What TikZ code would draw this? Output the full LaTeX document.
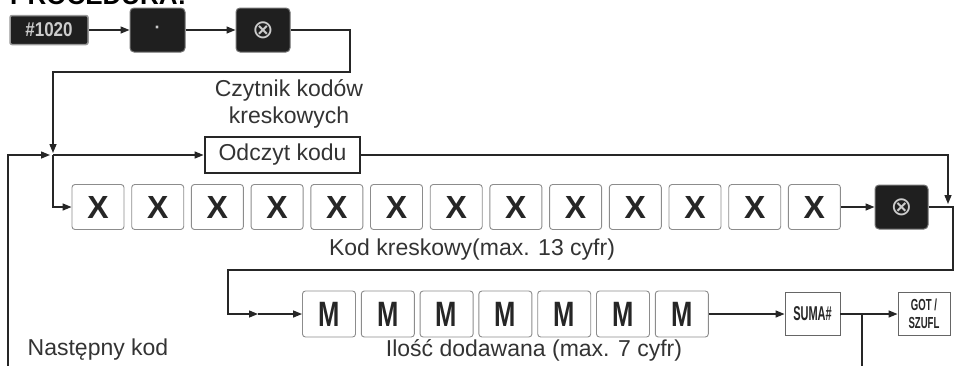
\documentclass[tikz,border=0pt]{standalone}
\usepackage{fontspec}
\setmainfont{Liberation Sans}
\newfontfamily\dejavu{DejaVu Sans}
\usetikzlibrary{arrows.meta}
\begin{document}
\begin{tikzpicture}[x=1pt,y=-1pt,
 conn/.style={line width=1.4pt, draw=black!85},
 arr/.style={conn,-{Triangle[length=9pt,width=7pt]}},
 xkey/.style={draw=black!45, line width=0.9pt, rounded corners=3pt, minimum width=52pt, minimum height=45pt, inner sep=0pt, font=\fontsize{32}{32}\selectfont\bfseries, text=black!85},
 mkey/.style={xkey, minimum width=53pt, minimum height=46pt},
 dkey/.style={fill=black!88, draw=black!55, line width=1pt, rounded corners=4pt, minimum width=54pt, minimum height=44pt, inner sep=0pt, text=black!20},
 smallkey/.style={draw=black!60, line width=0.9pt, minimum height=43pt, inner sep=0pt, align=center, text=black!85},
 lbl/.style={font=\fontsize{23}{27}\selectfont, text=black!80, inner sep=0pt, align=center},
 ]
\useasboundingbox (0,0) rectangle (956,365);
\clip (0,0) rectangle (956,365);
\node[anchor=base west, font=\fontsize{26}{26}\selectfont\bfseries, inner sep=0pt] (title) at (10,4) {PROCEDURA:};
% top row keys
\node[dkey, minimum width=78pt, minimum height=29pt, rounded corners=2pt, draw=black!40, line width=1.5pt] (k1) at (49,30) {\fontsize{20}{20}\selectfont\bfseries\scalebox{0.85}[1]{\#1020}};
\node[dkey, minimum width=55pt] (k2) at (157.5,30) {\fontsize{18}{18}\selectfont\textbf{·}};
\node[dkey] (k3) at (263,30) {\dejavu\fontsize{26}{26}\selectfont ⊗};
\draw[arr] (k1.east) -- (k2.west);
\draw[arr] (k2.east) -- (k3.west);
% reader
\node[lbl] (cz) at (289,104) {Czytnik kodów\\kreskowych};
\node[draw=black!85, line width=2.8pt, minimum width=155pt, minimum height=36pt, inner sep=0pt, font=\fontsize{23}{23}\selectfont, text=black!80] (odc) at (282.5,155) {Odczyt kodu};
% X row
\foreach \i in {1,...,13} {
  \node[xkey] (x\i) at ({98+59.7*(\i-1)},207) {X};
}
\node[dkey, minimum width=53pt] (ok) at (901.5,207) {\dejavu\fontsize{26}{26}\selectfont ⊗};
\node[lbl] (kk) at (472,250) {Kod kreskowy(max. 13 cyfr)};
% M row
\foreach \i in {1,...,7} {
  \node[mkey] (m\i) at ({329+58.8*(\i-1)},314) {\scalebox{0.8}[1.1]{M}};
}
\node[smallkey, minimum width=55pt, font=\fontsize{20}{20}\selectfont\bfseries] (suma) at (812.5,314) {\scalebox{0.55}[1]{SUMA\#}};
\node[smallkey, minimum width=52pt, font=\fontsize{16}{18}\selectfont\bfseries] (got) at (924,314) {\scalebox{0.6}[1]{GOT /}\\\scalebox{0.6}[1]{SZUFL}};
\node[lbl] (ilosc) at (534,350) {Ilość dodawana (max. 7 cyfr)};
\node[lbl] (nast) at (98,350) {Następny kod};
% connectors
\coordinate (c2) at (350,72);
\coordinate (c3) at (53,72);
\coordinate (j1) at (53,155);
\coordinate (j0) at (8,155);
\coordinate (jb) at (8,370);
\draw[arr, shorten >=2pt] (k3.east) -| (c2) -- (c3) -- (j1);
\draw[arr, shorten >=3pt] (jb) -- (j0) -- (j1);
\draw[arr] (j1) -- (odc.west);
\draw[arr] (j1) |- (x1.west);
\coordinate (tr) at (948,155);
\coordinate (tr2) at (948,204);
\draw[arr] (odc.east) -- (tr) -- (tr2);
\draw[arr] (x13.east) -- (ok.west);
\coordinate (r1) at (953,270);
\coordinate (l1) at (228,270);
\coordinate (l2) at (258,314);
\draw[arr] (ok.east) -| (r1) -- (l1) |- (l2);
\draw[arr] (l2) -- (m1.west);
\draw[arr] (m7.east) -- (suma.west);
\draw[arr] (suma.east) -- (got.west);
\coordinate (sj) at (862,314);
\coordinate (sb) at (862,370);
\draw[conn] (sj) -- (sb);
\end{tikzpicture}
\end{document}
